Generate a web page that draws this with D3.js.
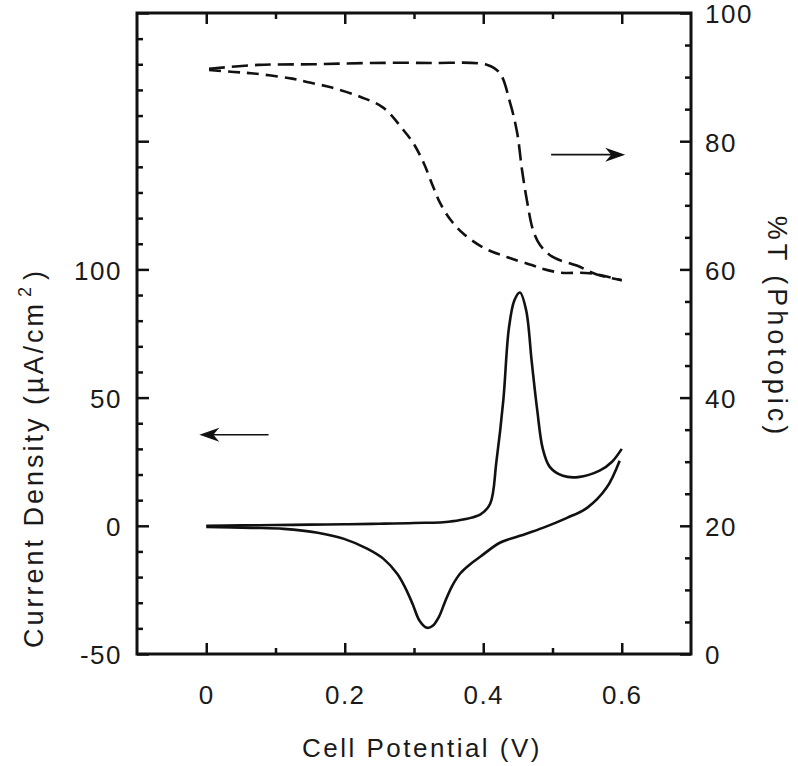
<!DOCTYPE html>
<head>
  <meta charset="utf-8">
  <script src="https://d3js.org/d3.v7.min.js"></script>
  <style>
  body { margin: 0; background: #fff; }
  text {
    font-family: "Liberation Sans", Arial, sans-serif;
    fill: #1a1a1a;
  }
  .axis path { display: none; }
  .axis line { stroke: #111; stroke-width: 2.5px; }
  .axis text { font-size: 26px; letter-spacing: 1.5px; }
  .frame { fill: none; stroke: #111; stroke-width: 3px; }
  .cv { fill: none; stroke: #111; stroke-width: 2.6px; }
  .trans { fill: none; stroke: #111; stroke-width: 2.6px; }
  .arrow { stroke: #111; stroke-width: 1.6px; fill: none; }
  .head { fill: #111; stroke: none; }
  .title { font-size: 26px; letter-spacing: 2.5px; }
</style>
</head>
<body>
<svg width="798" height="766"></svg>

<script type="text/javascript">
// cyclic voltammogram, current density (uA/cm2) vs cell potential (V)
var cvForward = [
  [0, 0], [0.05, 0.15], [0.1, 0.3], [0.15, 0.45], [0.2, 0.6], [0.25, 0.8], [0.3, 1.1],
  [0.353, 1.7], [0.396, 4.5], [0.41, 8.6], [0.419, 25], [0.429, 49], [0.437, 77],
  [0.445, 88], [0.453, 91], [0.462, 84], [0.47, 64], [0.478, 45], [0.486, 30],
  [0.496, 23], [0.515, 19.5], [0.537, 19], [0.568, 21.5], [0.586, 25], [0.6, 30]
];
var cvReverse = [
  [0.597, 25.4], [0.578, 14.8], [0.55, 7], [0.521, 3.1], [0.486, -0.8], [0.453, -3.9],
  [0.424, -6.6], [0.396, -12], [0.382, -14.8], [0.367, -18.5], [0.355, -23.5],
  [0.345, -29.5], [0.336, -35.5], [0.327, -39], [0.319, -39.8],
  [0.308, -37], [0.298, -30.5], [0.288, -24.5], [0.276, -18.8], [0.256, -12.9], [0.233, -9],
  [0.199, -5.1], [0.161, -2.7], [0.112, -1.2], [0.065, -0.8], [0, -0.4]
];

// photopic transmission (%T) vs cell potential (V)
var transForward = [
  [0.004, 91.3], [0.075, 91.9], [0.155, 92], [0.237, 92.2], [0.324, 92.2], [0.406, 91.9],
  [0.424, 90.6], [0.439, 85.9], [0.449, 81.3], [0.456, 75.5], [0.463, 70.8], [0.472, 66.1],
  [0.482, 63.8], [0.501, 61.9], [0.535, 60.6], [0.564, 59.2], [0.6, 58.3]
];
var transReverse = [
  [0.004, 91.1], [0.04, 90.8], [0.065, 90.6], [0.122, 89.8], [0.147, 89.2], [0.18, 88.4],
  [0.223, 86.9], [0.256, 85.2], [0.285, 81.7], [0.299, 79.7], [0.314, 76.6], [0.328, 72.8],
  [0.338, 70.3], [0.353, 67.7], [0.371, 65.6], [0.4, 63.4], [0.435, 61.9], [0.472, 60.6],
  [0.482, 60.2], [0.511, 59.5], [0.554, 59.4], [0.6, 58.3]
];

// ticks
var xMajor = [0, 0.2, 0.4, 0.6];
var xMinor = [0.1, 0.3, 0.5];
var yLeftMajor = [-50, 0, 50, 100, 150, 200];
var yLeftLabels = [-50, 0, 50, 100];
var yRightMajor = [0, 20, 40, 60, 80, 100];

// arrows: [x0, y0, x1, y1] in data units
var arrowToRight = [0.498, 77.9, 0.605, 77.9];
var arrowToLeft = [0.09, 35.5, -0.01, 35.5];

(function () {
var svg = d3.select("svg");
var mLeft = 137, mRight = 691, mTop = 13, mBottom = 654;

var x = d3.scaleLinear().domain([-0.1, 0.7]).range([mLeft, mRight]);
var yL = d3.scaleLinear().domain([-50, 200]).range([mBottom, mTop]);
var yR = d3.scaleLinear().domain([0, 100]).range([mBottom, mTop]);

function minorOf(scale, step) {
  var d = scale.domain(), out = [];
  for (var v = d[0] + step; v < d[1] - 1e-9; v += step) out.push(+v.toFixed(6));
  return out;
}

// bottom axis
svg.append("g").attr("class", "axis xlab").attr("transform", "translate(0," + mBottom + ")")
  .call(d3.axisBottom(x).tickValues(xMajor).tickSize(-11).tickPadding(32)
    .tickFormat(function (d) { return d === 0 ? "0" : d3.format(".1f")(d); }));
svg.append("g").attr("class", "axis").attr("transform", "translate(0," + mBottom + ")")
  .call(d3.axisBottom(x).tickValues(xMinor).tickSize(-6).tickFormat(""));
// top axis
svg.append("g").attr("class", "axis").attr("transform", "translate(0," + mTop + ")")
  .call(d3.axisTop(x).tickValues(xMajor).tickSize(-11).tickFormat(""));
svg.append("g").attr("class", "axis").attr("transform", "translate(0," + mTop + ")")
  .call(d3.axisTop(x).tickValues(xMinor).tickSize(-6).tickFormat(""));

// left axis
svg.append("g").attr("class", "axis").attr("transform", "translate(" + mLeft + ",0)")
  .call(d3.axisLeft(yL).tickValues(yLeftMajor).tickSize(-12).tickPadding(15)
    .tickFormat(function (d) { return yLeftLabels.indexOf(d) >= 0 ? d : ""; }));
svg.append("g").attr("class", "axis").attr("transform", "translate(" + mLeft + ",0)")
  .call(d3.axisLeft(yL).tickValues(minorOf(yL, 10).filter(function (v) { return v % 50 !== 0; }))
    .tickSize(-6).tickFormat(""));

// right axis
svg.append("g").attr("class", "axis").attr("transform", "translate(" + mRight + ",0)")
  .call(d3.axisRight(yR).tickValues(yRightMajor).tickSize(-11).tickPadding(14));
svg.append("g").attr("class", "axis").attr("transform", "translate(" + mRight + ",0)")
  .call(d3.axisRight(yR).tickValues(minorOf(yR, 5).filter(function (v) { return v % 20 !== 0; }))
    .tickSize(-6).tickFormat(""));

svg.selectAll(".axis text").attr("dy", "0.38em");
svg.selectAll(".xlab text").attr("dy", "0.71em");

// frame
svg.append("rect").attr("class", "frame")
  .attr("x", mLeft).attr("y", mTop).attr("width", mRight - mLeft).attr("height", mBottom - mTop);

// curves
var lineL = d3.line().x(function (d) { return x(d[0]); }).y(function (d) { return yL(d[1]); })
  .curve(d3.curveCatmullRom.alpha(0.5));
var lineR = d3.line().x(function (d) { return x(d[0]); }).y(function (d) { return yR(d[1]); })
  .curve(d3.curveCatmullRom.alpha(0.5));

svg.append("path").datum(cvForward).attr("class", "cv").attr("d", lineL);
svg.append("path").datum(cvReverse).attr("class", "cv").attr("d", lineL);
svg.append("path").datum(transForward).attr("class", "trans").attr("d", lineR)
  .attr("stroke-dasharray", "16,7");
svg.append("path").datum(transReverse).attr("class", "trans").attr("d", lineR)
  .attr("stroke-dasharray", "12,7");

// arrows
function arrow(a, ys) {
  var x0 = x(a[0]), y0 = ys(a[1]), x1 = x(a[2]), y1 = ys(a[3]);
  var dir = x1 > x0 ? 1 : -1;
  svg.append("line").attr("class", "arrow")
    .attr("x1", x0).attr("y1", y0).attr("x2", x1 - dir * 8).attr("y2", y1);
  svg.append("path").attr("class", "head")
    .attr("d", "M" + x1 + "," + y1 +
      "L" + (x1 - dir * 20) + "," + (y1 - 7) +
      "L" + (x1 - dir * 14) + "," + y1 +
      "L" + (x1 - dir * 20) + "," + (y1 + 7) + "Z");
}
arrow(arrowToRight, yR);
arrow(arrowToLeft, yL);

// titles
svg.append("text").attr("class", "title")
  .attr("x", (mLeft + mRight) / 2 + 8).attr("y", 757)
  .attr("text-anchor", "middle")
  .text("Cell Potential (V)");

var lt = svg.append("text").attr("class", "title")
  .attr("transform", "translate(43,458) rotate(-90)")
  .attr("text-anchor", "middle")
  .style("font-size", "27px").style("letter-spacing", "3px");
lt.append("tspan").text("Current Density (\u00b5A/cm");
lt.append("tspan").attr("dx", 4).attr("dy", -12).style("font-size", "18px").text("2");
lt.append("tspan").attr("dx", 4).attr("dy", 12).text(")");

svg.append("text").attr("class", "title")
  .attr("transform", "translate(768,327) rotate(90)")
  .attr("text-anchor", "middle")
  .style("font-size", "27px").style("letter-spacing", "4px")
  .text("%T (Photopic)");
})();
</script>
</body>
</html>
